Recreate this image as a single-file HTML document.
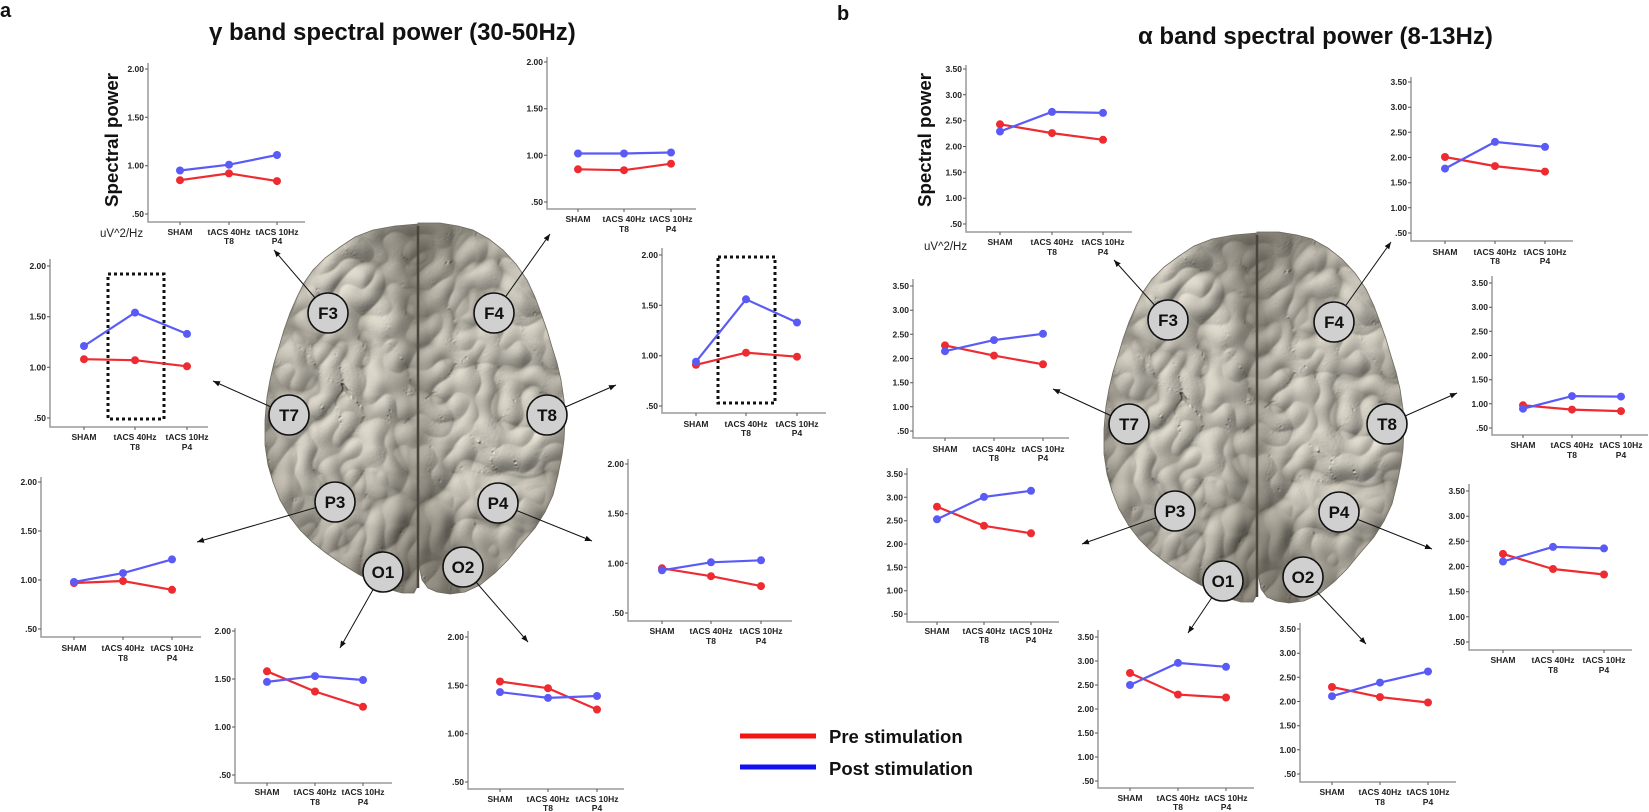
<!DOCTYPE html>
<html><head><meta charset="utf-8">
<style>
html,body{margin:0;padding:0;background:#fff;}
svg{display:block;}
.ax{fill:none;stroke:#9a9a9a;stroke-width:1.5}
.tk{fill:none;stroke:#555;stroke-width:1}
.yl{font-family:"Liberation Sans",Arial,sans-serif;font-weight:bold;font-size:8.5px;fill:#222;text-anchor:end}
.xl{font-family:"Liberation Sans",Arial,sans-serif;font-weight:bold;font-size:8.5px;fill:#222;text-anchor:middle}
.r{fill:none;stroke:#ee2b30;stroke-width:2.2}
.b{fill:none;stroke:#5a5af6;stroke-width:2.2}
.rd{fill:#ee2b30}
.bd{fill:#5a5af6}
.box{fill:none;stroke:#111;stroke-width:3;stroke-dasharray:3 3}
.arr{stroke:#111;stroke-width:1;fill:none}
.ec{fill:#d0d0d0;stroke:#111;stroke-width:1.6}
.et{font-family:"Liberation Sans",Arial,sans-serif;font-weight:bold;font-size:17px;fill:#111;text-anchor:middle}
.tt{font-family:"Liberation Sans",Arial,sans-serif;font-weight:bold;font-size:24px;fill:#111}
.pl{font-family:"Liberation Sans",Arial,sans-serif;font-weight:bold;font-size:20px;fill:#111}
.sp{font-family:"Liberation Sans",Arial,sans-serif;font-weight:bold;font-size:18.7px;fill:#111;text-anchor:middle}
.un{font-family:"Liberation Sans",Arial,sans-serif;font-size:11.5px;fill:#222}
.lg{font-family:"Liberation Sans",Arial,sans-serif;font-weight:bold;font-size:18.5px;fill:#111}
</style></head>
<body>
<svg width="1649" height="812" viewBox="0 0 1649 812" xmlns="http://www.w3.org/2000/svg">
<defs>
<marker id="ah" viewBox="0 0 10 10" refX="10" refY="5" markerWidth="7" markerHeight="7" orient="auto" markerUnits="userSpaceOnUse"><path d="M0,1 L10,5 L0,9 z" fill="#111"/></marker>
<filter id="tex" filterUnits="userSpaceOnUse" x="255" y="215" width="320" height="390" color-interpolation-filters="sRGB">
 <feTurbulence type="turbulence" baseFrequency="0.022 0.019" numOctaves="2" seed="11" result="n"/>
 <feColorMatrix in="n" type="matrix" values="0 0 0 0 0  0 0 0 0 0  0 0 0 0 0  1 0 0 0 0" result="h"/>
 <feGaussianBlur in="h" stdDeviation="0.8" result="hb"/>
 <feDiffuseLighting in="hb" surfaceScale="5" diffuseConstant="1.05" lighting-color="#e2ddd0" result="l">
   <feDistantLight azimuth="225" elevation="52"/>
 </feDiffuseLighting>
 <feComponentTransfer in="hb" result="crease"><feFuncA type="table" tableValues="0.42 0.12 0 0 0 0 0 0 0 0"/></feComponentTransfer>
 <feFlood flood-color="#5a554b" result="dk"/>
 <feComposite in="dk" in2="crease" operator="in" result="dl"/>
 <feMerge result="m"><feMergeNode in="l"/><feMergeNode in="dl"/></feMerge>
 <feComposite in="m" in2="SourceAlpha" operator="in"/>
</filter>
<radialGradient id="sh" cx="0.5" cy="0.45" r="0.62"><stop offset="0.55" stop-color="#3a352b" stop-opacity="0"/><stop offset="1" stop-color="#3a352b" stop-opacity="0.45"/></radialGradient>
<g id="brain">
 <g filter="url(#tex)">
  <path d="M418,224 L395,226 L373,230 L355,237 L340,247 L325,258 L313,270 L304,283 L297,297 L290,313 L284,330 L279,347 L274,363 L270,380 L267,397 L265,420 L265,445 L268,465 L273,482 L280,500 L290,517 L300,530 L312,542 L326,553 L342,564 L358,574 L373,582 L388,589 L402,593 L414,593 L418,585 Z" fill="#000"/>
  <path d="M418,223 L440,223 L458,226 L473,230 L489,239 L503,250 L516,264 L527,280 L535,297 L541,313 L547,330 L552,347 L557,363 L561,380 L564,400 L565,420 L564,440 L562,455 L558,475 L553,495 L545,512 L535,528 L522,543 L508,560 L495,573 L480,585 L465,592 L450,594 L437,592 L428,588 L422,580 L418,560 Z" fill="#000"/>
 </g>
 <path d="M418,224 L395,226 L373,230 L355,237 L340,247 L325,258 L313,270 L304,283 L297,297 L290,313 L284,330 L279,347 L274,363 L270,380 L267,397 L265,420 L265,445 L268,465 L273,482 L280,500 L290,517 L300,530 L312,542 L326,553 L342,564 L358,574 L373,582 L388,589 L402,593 L414,593 L418,585 Z" fill="url(#sh)" stroke="#6f6a5f" stroke-width="0.8"/>
 <path d="M418,223 L440,223 L458,226 L473,230 L489,239 L503,250 L516,264 L527,280 L535,297 L541,313 L547,330 L552,347 L557,363 L561,380 L564,400 L565,420 L564,440 L562,455 L558,475 L553,495 L545,512 L535,528 L522,543 L508,560 L495,573 L480,585 L465,592 L450,594 L437,592 L428,588 L422,580 L418,560 Z" fill="url(#sh)" stroke="#6f6a5f" stroke-width="0.8"/>
 <path d="M418,226 C417,300 419,400 418,588" stroke="#4a453c" stroke-width="2.5" fill="none"/>
</g>
</defs>

<!-- Titles -->
<text class="pl" x="0" y="17">a</text>
<text class="pl" x="837" y="20">b</text>
<text class="tt" x="209" y="40">γ band spectral power (30-50Hz)</text>
<text class="tt" x="1138" y="44">α band spectral power (8-13Hz)</text>

<!-- Brains -->
<use href="#brain"/>
<use href="#brain" transform="translate(839,9)"/>

<!-- Arrows left -->
<line class="arr" x1="328" y1="313" x2="274" y2="250" marker-end="url(#ah)"/>
<line class="arr" x1="494" y1="313" x2="550" y2="234" marker-end="url(#ah)"/>
<line class="arr" x1="289" y1="415" x2="213" y2="381" marker-end="url(#ah)"/>
<line class="arr" x1="547" y1="415" x2="616" y2="385" marker-end="url(#ah)"/>
<line class="arr" x1="335" y1="502" x2="197" y2="542" marker-end="url(#ah)"/>
<line class="arr" x1="498" y1="503" x2="592" y2="541" marker-end="url(#ah)"/>
<line class="arr" x1="383" y1="572" x2="340" y2="648" marker-end="url(#ah)"/>
<line class="arr" x1="463" y1="567" x2="528" y2="642" marker-end="url(#ah)"/>
<!-- Arrows right -->
<line class="arr" x1="1168" y1="320" x2="1114" y2="260" marker-end="url(#ah)"/>
<line class="arr" x1="1334" y1="322" x2="1391" y2="242" marker-end="url(#ah)"/>
<line class="arr" x1="1129" y1="424" x2="1053" y2="389" marker-end="url(#ah)"/>
<line class="arr" x1="1387" y1="424" x2="1457" y2="393" marker-end="url(#ah)"/>
<line class="arr" x1="1175" y1="511" x2="1082" y2="544" marker-end="url(#ah)"/>
<line class="arr" x1="1339" y1="512" x2="1432" y2="549" marker-end="url(#ah)"/>
<line class="arr" x1="1223" y1="581" x2="1188" y2="633" marker-end="url(#ah)"/>
<line class="arr" x1="1303" y1="577" x2="1366" y2="644" marker-end="url(#ah)"/>

<!-- Electrodes left -->
<circle class="ec" cx="328" cy="313" r="20"/><text class="et" x="328" y="319">F3</text>
<circle class="ec" cx="494" cy="313" r="20"/><text class="et" x="494" y="319">F4</text>
<circle class="ec" cx="289" cy="415" r="20"/><text class="et" x="289" y="421">T7</text>
<circle class="ec" cx="547" cy="415" r="20"/><text class="et" x="547" y="421">T8</text>
<circle class="ec" cx="335" cy="502" r="20"/><text class="et" x="335" y="508">P3</text>
<circle class="ec" cx="498" cy="503" r="20"/><text class="et" x="498" y="509">P4</text>
<circle class="ec" cx="383" cy="572" r="20"/><text class="et" x="383" y="578">O1</text>
<circle class="ec" cx="463" cy="567" r="20"/><text class="et" x="463" y="573">O2</text>
<!-- Electrodes right -->
<circle class="ec" cx="1168" cy="320" r="20"/><text class="et" x="1168" y="326">F3</text>
<circle class="ec" cx="1334" cy="322" r="20"/><text class="et" x="1334" y="328">F4</text>
<circle class="ec" cx="1129" cy="424" r="20"/><text class="et" x="1129" y="430">T7</text>
<circle class="ec" cx="1387" cy="424" r="20"/><text class="et" x="1387" y="430">T8</text>
<circle class="ec" cx="1175" cy="511" r="20"/><text class="et" x="1175" y="517">P3</text>
<circle class="ec" cx="1339" cy="512" r="20"/><text class="et" x="1339" y="518">P4</text>
<circle class="ec" cx="1223" cy="581" r="20"/><text class="et" x="1223" y="587">O1</text>
<circle class="ec" cx="1303" cy="577" r="20"/><text class="et" x="1303" y="583">O2</text>

<!-- ===== LEFT PANEL CHARTS ===== -->
<!-- L-F3 -->
<text class="sp" transform="translate(118,140) rotate(-90)">Spectral power</text>
<text class="un" x="100" y="237">uV^2/Hz</text>
<path class="ax" d="M148 63V222H305"/>
<path class="tk" d="M145 69h3M145 117.3h3M145 165.7h3M145 214h3M180 222v3M229 222v3M277 222v3"/>
<text class="yl" x="144" y="72">2.00</text><text class="yl" x="144" y="120.3">1.50</text><text class="yl" x="144" y="168.7">1.00</text><text class="yl" x="144" y="217">.50</text>
<text class="xl" x="180" y="235">SHAM</text><text class="xl" x="229" y="235">tACS 40Hz</text><text class="xl" x="229" y="244">T8</text><text class="xl" x="277" y="235">tACS 10Hz</text><text class="xl" x="277" y="244">P4</text>
<polyline class="r" points="180,180.2 229,173.4 277,181.1"/>
<circle class="rd" cx="180" cy="180.2" r="4"/><circle class="rd" cx="229" cy="173.4" r="4"/><circle class="rd" cx="277" cy="181.1" r="4"/>
<polyline class="b" points="180,170.5 229,164.7 277,155"/>
<circle class="bd" cx="180" cy="170.5" r="4"/><circle class="bd" cx="229" cy="164.7" r="4"/><circle class="bd" cx="277" cy="155" r="4"/>

<!-- L-T7 -->
<path class="ax" d="M50 259V427H208"/>
<path class="tk" d="M47 266h3M47 316.7h3M47 367.3h3M47 418h3M84 427v3M135 427v3M187 427v3"/>
<text class="yl" x="46" y="269">2.00</text><text class="yl" x="46" y="319.7">1.50</text><text class="yl" x="46" y="370.3">1.00</text><text class="yl" x="46" y="421">.50</text>
<text class="xl" x="84" y="440">SHAM</text><text class="xl" x="135" y="440">tACS 40Hz</text><text class="xl" x="135" y="450">T8</text><text class="xl" x="187" y="440">tACS 10Hz</text><text class="xl" x="187" y="450">P4</text>
<rect class="box" x="108" y="274" width="56" height="145"/>
<polyline class="r" points="84,359.2 135,360.2 187,366.3"/>
<circle class="rd" cx="84" cy="359.2" r="4"/><circle class="rd" cx="135" cy="360.2" r="4"/><circle class="rd" cx="187" cy="366.3" r="4"/>
<polyline class="b" points="84,346 135,312.6 187,333.9"/>
<circle class="bd" cx="84" cy="346" r="4"/><circle class="bd" cx="135" cy="312.6" r="4"/><circle class="bd" cx="187" cy="333.9" r="4"/>

<!-- L-F4 -->
<path class="ax" d="M547 57V209H696"/>
<path class="tk" d="M544 62h3M544 108.7h3M544 155.3h3M544 202h3M578 209v3M624 209v3M671 209v3"/>
<text class="yl" x="543" y="65">2.00</text><text class="yl" x="543" y="111.7">1.50</text><text class="yl" x="543" y="158.3">1.00</text><text class="yl" x="543" y="205">.50</text>
<text class="xl" x="578" y="222">SHAM</text><text class="xl" x="624" y="222">tACS 40Hz</text><text class="xl" x="624" y="232">T8</text><text class="xl" x="671" y="222">tACS 10Hz</text><text class="xl" x="671" y="232">P4</text>
<polyline class="r" points="578,169.3 624,170.2 671,163.7"/>
<circle class="rd" cx="578" cy="169.3" r="4"/><circle class="rd" cx="624" cy="170.2" r="4"/><circle class="rd" cx="671" cy="163.7" r="4"/>
<polyline class="b" points="578,153.5 624,153.5 671,152.5"/>
<circle class="bd" cx="578" cy="153.5" r="4"/><circle class="bd" cx="624" cy="153.5" r="4"/><circle class="bd" cx="671" cy="152.5" r="4"/>

<!-- L-T8 -->
<path class="ax" d="M662 248V413H826"/>
<path class="tk" d="M659 255h3M659 305.3h3M659 355.7h3M659 406h3M696 413v3M746 413v3M797 413v3"/>
<text class="yl" x="658" y="258">2.00</text><text class="yl" x="658" y="308.3">1.50</text><text class="yl" x="658" y="358.7">1.00</text><text class="yl" x="658" y="409">.50</text>
<text class="xl" x="696" y="427">SHAM</text><text class="xl" x="746" y="427">tACS 40Hz</text><text class="xl" x="746" y="436">T8</text><text class="xl" x="797" y="427">tACS 10Hz</text><text class="xl" x="797" y="436">P4</text>
<rect class="box" x="718" y="257" width="57" height="146"/>
<polyline class="r" points="696,364.8 746,352.7 797,356.7"/>
<circle class="rd" cx="696" cy="364.8" r="4"/><circle class="rd" cx="746" cy="352.7" r="4"/><circle class="rd" cx="797" cy="356.7" r="4"/>
<polyline class="b" points="696,361.7 746,299.3 797,322.5"/>
<circle class="bd" cx="696" cy="361.7" r="4"/><circle class="bd" cx="746" cy="299.3" r="4"/><circle class="bd" cx="797" cy="322.5" r="4"/>

<!-- L-P3 -->
<path class="ax" d="M41 477V637H201"/>
<path class="tk" d="M38 482h3M38 531h3M38 580h3M38 629h3M74 637v3M123 637v3M172 637v3"/>
<text class="yl" x="37" y="485">2.00</text><text class="yl" x="37" y="534">1.50</text><text class="yl" x="37" y="583">1.00</text><text class="yl" x="37" y="632">.50</text>
<text class="xl" x="74" y="651">SHAM</text><text class="xl" x="123" y="651">tACS 40Hz</text><text class="xl" x="123" y="661">T8</text><text class="xl" x="172" y="651">tACS 10Hz</text><text class="xl" x="172" y="661">P4</text>
<polyline class="r" points="74,583 123,581 172,589.8"/>
<circle class="rd" cx="74" cy="583" r="4"/><circle class="rd" cx="123" cy="581" r="4"/><circle class="rd" cx="172" cy="589.8" r="4"/>
<polyline class="b" points="74,582 123,573.1 172,559.4"/>
<circle class="bd" cx="74" cy="582" r="4"/><circle class="bd" cx="123" cy="573.1" r="4"/><circle class="bd" cx="172" cy="559.4" r="4"/>

<!-- L-O1 -->
<path class="ax" d="M235 628V783H392"/>
<path class="tk" d="M232 631h3M232 679h3M232 727h3M232 775h3M267 783v3M315 783v3M363 783v3"/>
<text class="yl" x="231" y="634">2.00</text><text class="yl" x="231" y="682">1.50</text><text class="yl" x="231" y="730">1.00</text><text class="yl" x="231" y="778">.50</text>
<text class="xl" x="267" y="795">SHAM</text><text class="xl" x="315" y="795">tACS 40Hz</text><text class="xl" x="315" y="805">T8</text><text class="xl" x="363" y="795">tACS 10Hz</text><text class="xl" x="363" y="805">P4</text>
<polyline class="r" points="267,671.3 315,691.5 363,706.8"/>
<circle class="rd" cx="267" cy="671.3" r="4"/><circle class="rd" cx="315" cy="691.5" r="4"/><circle class="rd" cx="363" cy="706.8" r="4"/>
<polyline class="b" points="267,681.9 315,676.1 363,680"/>
<circle class="bd" cx="267" cy="681.9" r="4"/><circle class="bd" cx="315" cy="676.1" r="4"/><circle class="bd" cx="363" cy="680" r="4"/>

<!-- L-P4 -->
<path class="ax" d="M628 459V621H792"/>
<path class="tk" d="M625 464h3M625 513.7h3M625 563.3h3M625 613h3M662 621v3M711 621v3M761 621v3"/>
<text class="yl" x="624" y="467">2.00</text><text class="yl" x="624" y="516.7">1.50</text><text class="yl" x="624" y="566.3">1.00</text><text class="yl" x="624" y="616">.50</text>
<text class="xl" x="662" y="634">SHAM</text><text class="xl" x="711" y="634">tACS 40Hz</text><text class="xl" x="711" y="644">T8</text><text class="xl" x="761" y="634">tACS 10Hz</text><text class="xl" x="761" y="644">P4</text>
<polyline class="r" points="662,568.3 711,576.2 761,586.1"/>
<circle class="rd" cx="662" cy="568.3" r="4"/><circle class="rd" cx="711" cy="576.2" r="4"/><circle class="rd" cx="761" cy="586.1" r="4"/>
<polyline class="b" points="662,570.3 711,562.3 761,560.3"/>
<circle class="bd" cx="662" cy="570.3" r="4"/><circle class="bd" cx="711" cy="562.3" r="4"/><circle class="bd" cx="761" cy="560.3" r="4"/>

<!-- L-O2 -->
<path class="ax" d="M468 631V789H624"/>
<path class="tk" d="M465 637h3M465 685.3h3M465 733.7h3M465 782h3M500 789v3M548 789v3M597 789v3"/>
<text class="yl" x="464" y="640">2.00</text><text class="yl" x="464" y="688.3">1.50</text><text class="yl" x="464" y="736.7">1.00</text><text class="yl" x="464" y="785">.50</text>
<text class="xl" x="500" y="802">SHAM</text><text class="xl" x="548" y="802">tACS 40Hz</text><text class="xl" x="548" y="811">T8</text><text class="xl" x="597" y="802">tACS 10Hz</text><text class="xl" x="597" y="811">P4</text>
<polyline class="r" points="500,681.5 548,688.2 597,709.5"/>
<circle class="rd" cx="500" cy="681.5" r="4"/><circle class="rd" cx="548" cy="688.2" r="4"/><circle class="rd" cx="597" cy="709.5" r="4"/>
<polyline class="b" points="500,692.1 548,697.9 597,696"/>
<circle class="bd" cx="500" cy="692.1" r="4"/><circle class="bd" cx="548" cy="697.9" r="4"/><circle class="bd" cx="597" cy="696" r="4"/>

<!-- Legend -->
<line x1="740" y1="736" x2="816" y2="736" stroke="#f41414" stroke-width="5"/>
<line x1="740" y1="767" x2="816" y2="767" stroke="#1010f0" stroke-width="5"/>
<text class="lg" x="829" y="743">Pre stimulation</text>
<text class="lg" x="829" y="775">Post stimulation</text>

<!-- ===== RIGHT PANEL CHARTS ===== -->
<!-- R-F3 -->
<text class="sp" transform="translate(931,140) rotate(-90)">Spectral power</text>
<text class="un" x="924" y="250">uV^2/Hz</text>
<path class="ax" d="M966 65V232H1132"/>
<path class="tk" d="M963 69h3M963 94.8h3M963 120.7h3M963 146.5h3M963 172.3h3M963 198.2h3M963 224h3M1000 232v3M1052 232v3M1103 232v3"/>
<text class="yl" x="962" y="72">3.50</text><text class="yl" x="962" y="97.8">3.00</text><text class="yl" x="962" y="123.7">2.50</text><text class="yl" x="962" y="149.5">2.00</text><text class="yl" x="962" y="175.3">1.50</text><text class="yl" x="962" y="201.2">1.00</text><text class="yl" x="962" y="227">.50</text>
<text class="xl" x="1000" y="245">SHAM</text><text class="xl" x="1052" y="245">tACS 40Hz</text><text class="xl" x="1052" y="255">T8</text><text class="xl" x="1103" y="245">tACS 10Hz</text><text class="xl" x="1103" y="255">P4</text>
<polyline class="r" points="1000,124.3 1052,133.1 1103,139.8"/>
<circle class="rd" cx="1000" cy="124.3" r="4"/><circle class="rd" cx="1052" cy="133.1" r="4"/><circle class="rd" cx="1103" cy="139.8" r="4"/>
<polyline class="b" points="1000,131.5 1052,111.9 1103,112.9"/>
<circle class="bd" cx="1000" cy="131.5" r="4"/><circle class="bd" cx="1052" cy="111.9" r="4"/><circle class="bd" cx="1103" cy="112.9" r="4"/>

<!-- R-T7 -->
<path class="ax" d="M913 279V438H1069"/>
<path class="tk" d="M910 286h3M910 310.2h3M910 334.3h3M910 358.5h3M910 382.7h3M910 406.8h3M910 431h3M945 438v3M994 438v3M1043 438v3"/>
<text class="yl" x="909" y="289">3.50</text><text class="yl" x="909" y="313.2">3.00</text><text class="yl" x="909" y="337.3">2.50</text><text class="yl" x="909" y="361.5">2.00</text><text class="yl" x="909" y="385.7">1.50</text><text class="yl" x="909" y="409.8">1.00</text><text class="yl" x="909" y="434">.50</text>
<text class="xl" x="945" y="452">SHAM</text><text class="xl" x="994" y="452">tACS 40Hz</text><text class="xl" x="994" y="461">T8</text><text class="xl" x="1043" y="452">tACS 10Hz</text><text class="xl" x="1043" y="461">P4</text>
<polyline class="r" points="945,345.4 994,355.6 1043,364.3"/>
<circle class="rd" cx="945" cy="345.4" r="4"/><circle class="rd" cx="994" cy="355.6" r="4"/><circle class="rd" cx="1043" cy="364.3" r="4"/>
<polyline class="b" points="945,351.2 994,340.1 1043,333.8"/>
<circle class="bd" cx="945" cy="351.2" r="4"/><circle class="bd" cx="994" cy="340.1" r="4"/><circle class="bd" cx="1043" cy="333.8" r="4"/>

<!-- R-F4 -->
<path class="ax" d="M1411 77V241H1573"/>
<path class="tk" d="M1408 82h3M1408 107.2h3M1408 132.3h3M1408 157.5h3M1408 182.7h3M1408 207.8h3M1408 233h3M1445 241v3M1495 241v3M1545 241v3"/>
<text class="yl" x="1407" y="85">3.50</text><text class="yl" x="1407" y="110.2">3.00</text><text class="yl" x="1407" y="135.3">2.50</text><text class="yl" x="1407" y="160.5">2.00</text><text class="yl" x="1407" y="185.7">1.50</text><text class="yl" x="1407" y="210.8">1.00</text><text class="yl" x="1407" y="236">.50</text>
<text class="xl" x="1445" y="255">SHAM</text><text class="xl" x="1495" y="255">tACS 40Hz</text><text class="xl" x="1495" y="264">T8</text><text class="xl" x="1545" y="255">tACS 10Hz</text><text class="xl" x="1545" y="264">P4</text>
<polyline class="r" points="1445,157 1495,166.1 1545,171.6"/>
<circle class="rd" cx="1445" cy="157" r="4"/><circle class="rd" cx="1495" cy="166.1" r="4"/><circle class="rd" cx="1545" cy="171.6" r="4"/>
<polyline class="b" points="1445,168.6 1495,141.9 1545,146.9"/>
<circle class="bd" cx="1445" cy="168.6" r="4"/><circle class="bd" cx="1495" cy="141.9" r="4"/><circle class="bd" cx="1545" cy="146.9" r="4"/>

<!-- R-T8 -->
<path class="ax" d="M1492 276V435H1648"/>
<path class="tk" d="M1489 283h3M1489 307.2h3M1489 331.3h3M1489 355.5h3M1489 379.7h3M1489 403.8h3M1489 428h3M1523 435v3M1572 435v3M1621 435v3"/>
<text class="yl" x="1488" y="286">3.50</text><text class="yl" x="1488" y="310.2">3.00</text><text class="yl" x="1488" y="334.3">2.50</text><text class="yl" x="1488" y="358.5">2.00</text><text class="yl" x="1488" y="382.7">1.50</text><text class="yl" x="1488" y="406.8">1.00</text><text class="yl" x="1488" y="431">.50</text>
<text class="xl" x="1523" y="448">SHAM</text><text class="xl" x="1572" y="448">tACS 40Hz</text><text class="xl" x="1572" y="458">T8</text><text class="xl" x="1621" y="448">tACS 10Hz</text><text class="xl" x="1621" y="458">P4</text>
<polyline class="r" points="1523,405.3 1572,409.6 1621,411.1"/>
<circle class="rd" cx="1523" cy="405.3" r="4"/><circle class="rd" cx="1572" cy="409.6" r="4"/><circle class="rd" cx="1621" cy="411.1" r="4"/>
<polyline class="b" points="1523,408.7 1572,396.1 1621,396.6"/>
<circle class="bd" cx="1523" cy="408.7" r="4"/><circle class="bd" cx="1572" cy="396.1" r="4"/><circle class="bd" cx="1621" cy="396.6" r="4"/>

<!-- R-P3 -->
<path class="ax" d="M907 468V622H1059"/>
<path class="tk" d="M904 474h3M904 497.3h3M904 520.7h3M904 544h3M904 567.3h3M904 590.7h3M904 614h3M937 622v3M984 622v3M1031 622v3"/>
<text class="yl" x="903" y="477">3.50</text><text class="yl" x="903" y="500.3">3.00</text><text class="yl" x="903" y="523.7">2.50</text><text class="yl" x="903" y="547">2.00</text><text class="yl" x="903" y="570.3">1.50</text><text class="yl" x="903" y="593.7">1.00</text><text class="yl" x="903" y="617">.50</text>
<text class="xl" x="937" y="634">SHAM</text><text class="xl" x="984" y="634">tACS 40Hz</text><text class="xl" x="984" y="643">T8</text><text class="xl" x="1031" y="634">tACS 10Hz</text><text class="xl" x="1031" y="643">P4</text>
<polyline class="r" points="937,506.7 984,525.8 1031,533.3"/>
<circle class="rd" cx="937" cy="506.7" r="4"/><circle class="rd" cx="984" cy="525.8" r="4"/><circle class="rd" cx="1031" cy="533.3" r="4"/>
<polyline class="b" points="937,519.3 984,496.9 1031,490.8"/>
<circle class="bd" cx="937" cy="519.3" r="4"/><circle class="bd" cx="984" cy="496.9" r="4"/><circle class="bd" cx="1031" cy="490.8" r="4"/>

<!-- R-O1 -->
<path class="ax" d="M1098 630V788H1254"/>
<path class="tk" d="M1095 637h3M1095 661h3M1095 685h3M1095 709h3M1095 733h3M1095 757h3M1095 781h3M1130 788v3M1178 788v3M1226 788v3"/>
<text class="yl" x="1094" y="640">3.50</text><text class="yl" x="1094" y="664">3.00</text><text class="yl" x="1094" y="688">2.50</text><text class="yl" x="1094" y="712">2.00</text><text class="yl" x="1094" y="736">1.50</text><text class="yl" x="1094" y="760">1.00</text><text class="yl" x="1094" y="784">.50</text>
<text class="xl" x="1130" y="801">SHAM</text><text class="xl" x="1178" y="801">tACS 40Hz</text><text class="xl" x="1178" y="810">T8</text><text class="xl" x="1226" y="801">tACS 10Hz</text><text class="xl" x="1226" y="810">P4</text>
<polyline class="r" points="1130,673 1178,694.6 1226,697.5"/>
<circle class="rd" cx="1130" cy="673" r="4"/><circle class="rd" cx="1178" cy="694.6" r="4"/><circle class="rd" cx="1226" cy="697.5" r="4"/>
<polyline class="b" points="1130,685 1178,662.9 1226,666.8"/>
<circle class="bd" cx="1130" cy="685" r="4"/><circle class="bd" cx="1178" cy="662.9" r="4"/><circle class="bd" cx="1226" cy="666.8" r="4"/>

<!-- R-P4 -->
<path class="ax" d="M1469 484V650H1632"/>
<path class="tk" d="M1466 491h3M1466 516.2h3M1466 541.3h3M1466 566.5h3M1466 591.7h3M1466 616.8h3M1466 642h3M1503 650v3M1553 650v3M1604 650v3"/>
<text class="yl" x="1465" y="494">3.50</text><text class="yl" x="1465" y="519.2">3.00</text><text class="yl" x="1465" y="544.3">2.50</text><text class="yl" x="1465" y="569.5">2.00</text><text class="yl" x="1465" y="594.7">1.50</text><text class="yl" x="1465" y="619.8">1.00</text><text class="yl" x="1465" y="645">.50</text>
<text class="xl" x="1503" y="663">SHAM</text><text class="xl" x="1553" y="663">tACS 40Hz</text><text class="xl" x="1553" y="673">T8</text><text class="xl" x="1604" y="663">tACS 10Hz</text><text class="xl" x="1604" y="673">P4</text>
<polyline class="r" points="1503,553.9 1553,569 1604,574.5"/>
<circle class="rd" cx="1503" cy="553.9" r="4"/><circle class="rd" cx="1553" cy="569" r="4"/><circle class="rd" cx="1604" cy="574.5" r="4"/>
<polyline class="b" points="1503,561.5 1553,546.9 1604,548.4"/>
<circle class="bd" cx="1503" cy="561.5" r="4"/><circle class="bd" cx="1553" cy="546.9" r="4"/><circle class="bd" cx="1604" cy="548.4" r="4"/>

<!-- R-O2 -->
<path class="ax" d="M1300 623V782H1456"/>
<path class="tk" d="M1297 629h3M1297 653.2h3M1297 677.3h3M1297 701.5h3M1297 725.7h3M1297 749.8h3M1297 774h3M1332 782v3M1380 782v3M1428 782v3"/>
<text class="yl" x="1296" y="632">3.50</text><text class="yl" x="1296" y="656.2">3.00</text><text class="yl" x="1296" y="680.3">2.50</text><text class="yl" x="1296" y="704.5">2.00</text><text class="yl" x="1296" y="728.7">1.50</text><text class="yl" x="1296" y="752.8">1.00</text><text class="yl" x="1296" y="777">.50</text>
<text class="xl" x="1332" y="795">SHAM</text><text class="xl" x="1380" y="795">tACS 40Hz</text><text class="xl" x="1380" y="805">T8</text><text class="xl" x="1428" y="795">tACS 10Hz</text><text class="xl" x="1428" y="805">P4</text>
<polyline class="r" points="1332,687 1380,697.1 1428,702.5"/>
<circle class="rd" cx="1332" cy="687" r="4"/><circle class="rd" cx="1380" cy="697.1" r="4"/><circle class="rd" cx="1428" cy="702.5" r="4"/>
<polyline class="b" points="1332,696.2 1380,682.6 1428,671.5"/>
<circle class="bd" cx="1332" cy="696.2" r="4"/><circle class="bd" cx="1380" cy="682.6" r="4"/><circle class="bd" cx="1428" cy="671.5" r="4"/>
</svg>
</body></html>
